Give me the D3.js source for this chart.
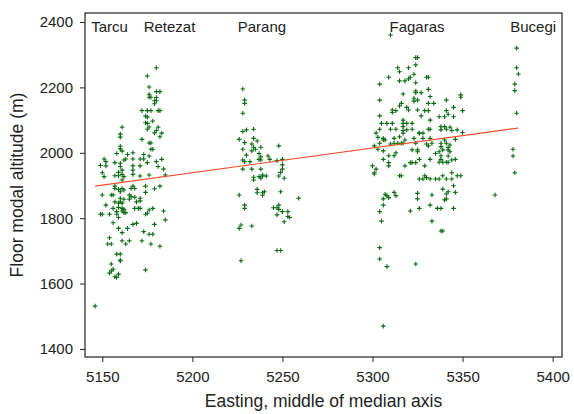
<!DOCTYPE html>
<html lang="en">
<head>
<meta charset="UTF-8">
<title>Floor modal altitude vs easting</title>
<style>
    body { margin: 0; background: #fff; }
    text { font-family: "Liberation Sans", Arial, sans-serif; fill: #222; }
</style>
</head>
<body>
<script src="https://cdn.jsdelivr.net/npm/d3@7"></script>
<script type="text/javascript">
    // [easting, altitude] per mountain group
    var tarcuRetezat = [
        [5180,2260],[5175,2235],[5176,2201],[5180,2187],[5182,2187],[5176,2179],[5176,2170],[5177,2170],[5180,2169],
        [5179,2159],[5180,2159],[5179,2150],[5172,2129],[5175,2129],[5177,2129],[5181,2129],[5182,2129],
        [5174,2112],[5175,2109],[5178,2097],[5174,2092],[5175,2090],[5176,2079],[5175,2072],[5181,2078],
        [5180,2068],[5183,2060],[5182,2049],[5179,2061],[5161,2078],[5160,2057],[5160,2048],[5172,2041],
        [5176,2030],[5177,2030],[5160,2020],[5160,2012],[5161,2005],[5177,2011],[5178,2011],[5158,1998],
        [5164,1995],[5167,2000],[5173,1995],[5176,1990],[5151,1981],[5152,1973],[5149,1961],[5152,1960],
        [5157,1970],[5160,1968],[5162,1978],[5163,1981],[5167,1981],[5171,1981],[5173,1981],[5175,1970],
        [5180,1973],[5183,1980],[5160,1958],[5161,1947],[5167,1960],[5167,1947],[5171,1960],[5181,1958],
        [5184,1950],[5150,1939],[5151,1927],[5157,1930],[5159,1940],[5159,1930],[5161,1934],[5162,1927],
        [5167,1934],[5171,1929],[5176,1932],[5185,1932],
        [5161,1917],[5157,1898],[5157,1891],[5159,1888],[5161,1891],[5167,1898],[5166,1891],[5168,1891],
        [5174,1898],[5182,1898],[5179,1890],[5174,1879],[5162,1886],[5160,1881],[5150,1871],[5155,1871],
        [5156,1871],[5165,1871],[5166,1866],[5168,1864],[5171,1861],[5171,1853],[5169,1850],[5165,1858],
        [5160,1861],[5162,1858],[5160,1850],[5157,1850],[5159,1846],[5161,1846],[5152,1840],[5156,1830],
        [5159,1833],[5161,1830],[5162,1827],[5168,1830],[5170,1830],[5171,1830],[5178,1830],[5176,1825],
        [5175,1815],[5174,1812],[5184,1822],[5185,1795],[5149,1812],[5150,1812],[5154,1812],[5158,1820],
        [5161,1822],[5162,1817],[5163,1817],[5159,1802],[5158,1812],[5156,1786],[5167,1781],[5169,1784],
        [5179,1781],[5159,1769],[5164,1769],[5161,1756],[5173,1759],[5176,1751],[5178,1751],[5154,1740],
        [5153,1721],[5155,1721],[5161,1731],[5165,1731],[5163,1721],[5172,1731],[5177,1721],[5182,1714],
        [5158,1690],[5160,1690],[5160,1672],[5160,1669],[5155,1660],[5154,1632],[5155,1639],[5156,1644],
        [5157,1621],[5158,1619],[5159,1629],[5174,1642],[5146,1531]
    ];
    var parang = [
        [5228,2195],[5229,2161],[5229,2151],[5228,2121],[5228,2065],[5230,2070],[5234,2072],[5226,2041],
        [5229,2031],[5234,2044],[5236,2036],[5228,2011],[5230,1993],[5233,2027],[5234,2017],[5233,2006],
        [5235,2011],[5238,2017],[5237,1998],[5238,1988],[5237,1980],[5238,1978],[5242,1990],[5243,1980],
        [5248,2021],[5228,1978],[5229,1973],[5232,1973],[5228,1950],[5233,1950],[5238,1950],[5247,1976],
        [5250,1980],[5250,1963],[5250,1950],[5249,1940],[5248,1929],[5234,1925],[5234,1917],[5237,1927],
        [5239,1929],[5239,1932],[5241,1929],[5238,1922],[5251,1922],[5236,1888],[5236,1878],[5239,1878],
        [5240,1881],[5239,1870],[5249,1881],[5226,1871],[5259,1861],[5229,1840],[5229,1830],[5245,1832],
        [5247,1832],[5248,1840],[5248,1827],[5250,1820],[5253,1820],[5247,1810],[5253,1805],[5254,1802],
        [5251,1789],[5227,1779],[5226,1769],[5233,1776],[5247,1701],[5249,1701],[5227,1670]
    ];
    var fagaras = [
        [5310,2360],[5324,2291],[5325,2291],[5314,2260],[5315,2248],[5320,2260],[5324,2269],[5323,2240],
        [5321,2231],[5320,2226],[5318,2220],[5315,2220],[5309,2231],[5330,2231],[5331,2231],[5304,2210],
        [5324,2214],[5324,2189],[5331,2194],[5317,2180],[5324,2184],[5327,2184],[5323,2167],[5323,2158],
        [5325,2161],[5332,2172],[5331,2151],[5334,2151],[5349,2177],[5349,2170],[5341,2161],[5345,2139],
        [5304,2161],[5316,2151],[5315,2143],[5319,2139],[5320,2131],[5325,2131],[5327,2113],[5329,2129],
        [5331,2129],[5311,2131],[5311,2123],[5313,2129],[5341,2129],[5342,2118],[5340,2110],[5345,2110],
        [5350,2129],[5304,2113],[5305,2090],[5304,2072],[5308,2090],[5311,2090],[5310,2072],[5313,2072],
        [5317,2100],[5317,2090],[5319,2090],[5322,2090],[5317,2080],[5317,2068],[5319,2070],[5322,2072],
        [5326,2060],[5328,2060],[5332,2100],[5331,2072],[5332,2072],[5337,2110],[5338,2080],[5340,2080],
        [5341,2072],[5343,2078],[5344,2068],[5338,2070],[5347,2070],[5350,2062],[5302,2060],[5303,2047],
        [5306,2044],[5312,2044],[5315,2049],[5317,2060],[5323,2044],[5328,2044],[5332,2044],[5326,2060],
        [5301,2021],[5304,2029],[5306,2039],[5307,2039],[5303,2011],[5306,2006],[5310,2027],[5312,2029],
        [5314,2029],[5316,2029],[5317,2029],[5318,2039],[5322,2009],[5325,2009],[5325,2003],[5324,2029],
        [5330,2027],[5333,2029],[5331,2021],[5338,2029],[5338,2019],[5339,2009],[5341,2029],[5340,2039],
        [5342,2016],[5342,2009],[5346,2041],[5343,2024],[5309,1991],[5313,2000],[5306,1980],[5309,1970],
        [5309,1960],[5312,1991],[5321,1970],[5322,1970],[5324,1970],[5326,1980],[5332,1980],[5329,1960],
        [5318,1960],[5335,1998],[5337,2003],[5338,1991],[5338,1980],[5337,1971],[5339,1971],[5341,1971],
        [5342,1971],[5342,1990],[5344,1978],[5346,1980],[5343,2003],[5300,1960],[5302,1950],[5301,1939],
        [5301,1935],[5315,1930],[5316,1930],[5329,1930],[5330,1924],[5326,1920],[5328,1920],[5332,1920],
        [5335,1920],[5337,1920],[5339,1930],[5341,1920],[5344,1939],[5344,1920],[5347,1930],[5349,1930],
        [5345,1899],[5339,1889],[5342,1881],[5341,1874],[5346,1879],[5341,1859],[5340,1856],[5312,1879],
        [5313,1869],[5307,1873],[5306,1859],[5308,1869],[5309,1863],[5325,1876],[5325,1859],[5333,1871],
        [5306,1840],[5304,1820],[5321,1822],[5326,1830],[5332,1840],[5336,1830],[5338,1830],[5345,1830],
        [5305,1791],[5333,1791],[5338,1761],[5339,1761],[5304,1710],[5304,1675],[5308,1652],[5324,1660],
        [5306,1470]
    ];
    var bucegi = [
        [5380,2320],[5380,2260],[5381,2241],[5379,2210],[5379,2190],[5380,2121],[5378,2011],[5378,1990],
        [5379,1939],[5368,1871]
    ];

    // regression line end points
    var fitX = [5146, 5381];
    var fitY = [1898, 2076];

    var rangeNames = ["Tarcu", "Retezat", "Parang", "Fagaras", "Bucegi"];
    var rangeNameX = [5154, 5187.3, 5238.6, 5324.7, 5389.2];
    var rangeNameY = 2370;

    var xTicks = [5150, 5200, 5250, 5300, 5350, 5400];
    var yTicks = [1400, 1600, 1800, 2000, 2200, 2400];

    var w = 574, h = 414;
    var pLeft = 85, pRight = 562, pTop = 13, pBottom = 357;

    var xScale = d3.scaleLinear().domain([5140.4, 5405.2]).range([pLeft, pRight]);
    var yScale = d3.scaleLinear().domain([1375.5, 2427.5]).range([pBottom, pTop]);

    var svg = d3.select("body").append("svg")
        .attr("width", w)
        .attr("height", h);

    //Axes
    var xAxis = svg.append("g")
        .attr("transform", "translate(0," + pBottom + ")")
        .call(d3.axisBottom(xScale).tickValues(xTicks).tickSize(5).tickPadding(9.5).tickFormat(d3.format("d")));
    var yAxis = svg.append("g")
        .attr("transform", "translate(" + pLeft + ",0)")
        .call(d3.axisLeft(yScale).tickValues(yTicks).tickSize(5).tickPadding(7).tickFormat(d3.format("d")));
    [xAxis, yAxis].forEach(function(g) {
        g.select(".domain").remove();
        g.selectAll("line").attr("stroke", "#222");
        g.selectAll("text")
            .attr("font-size", "15px")
            .attr("font-family", "'Liberation Sans', Arial, sans-serif")
            .attr("fill", "#222");
    });

    //Box
    svg.append("rect")
        .attr("x", pLeft)
        .attr("y", pTop)
        .attr("width", pRight - pLeft)
        .attr("height", pBottom - pTop)
        .attr("fill", "none")
        .attr("stroke", "#222")
        .attr("stroke-width", 1.2);

    //Points
    var allPoints = tarcuRetezat.concat(parang, fagaras, bucegi);
    svg.append("g")
        .selectAll("path")
        .data(allPoints)
        .enter()
        .append("path")
        .attr("transform", function(d) {
            return "translate(" + xScale(d[0]) + "," + yScale(d[1]) + ")";
        })
        .attr("d", "M-2.3,0H2.3M0,-2.3V2.3")
        .attr("stroke", "#0b6b12")
        .attr("stroke-width", 1.1)
        .attr("fill", "none");

    //Regression line
    svg.append("line")
        .attr("x1", xScale(fitX[0]))
        .attr("y1", yScale(fitY[0]))
        .attr("x2", xScale(fitX[1]))
        .attr("y2", yScale(fitY[1]))
        .attr("stroke", "#ef4a25")
        .attr("stroke-width", 1.1);

    //Mountain names
    svg.append("g")
        .selectAll("text")
        .data(rangeNames)
        .enter()
        .append("text")
        .attr("x", function(d, i) { return xScale(rangeNameX[i]); })
        .attr("y", yScale(rangeNameY))
        .attr("text-anchor", "middle")
        .attr("font-size", "15px")
        .text(function(d) { return d; });

    //Axis titles
    svg.append("text")
        .attr("x", (pLeft + pRight) / 2)
        .attr("y", 407)
        .attr("text-anchor", "middle")
        .attr("font-size", "17.5px")
        .text("Easting, middle of median axis");
    svg.append("text")
        .attr("transform", "translate(23," + ((pTop + pBottom) / 2) + ") rotate(-90)")
        .attr("text-anchor", "middle")
        .attr("font-size", "17.5px")
        .text("Floor modal altitude (m)");
</script>
</body>
</html>
